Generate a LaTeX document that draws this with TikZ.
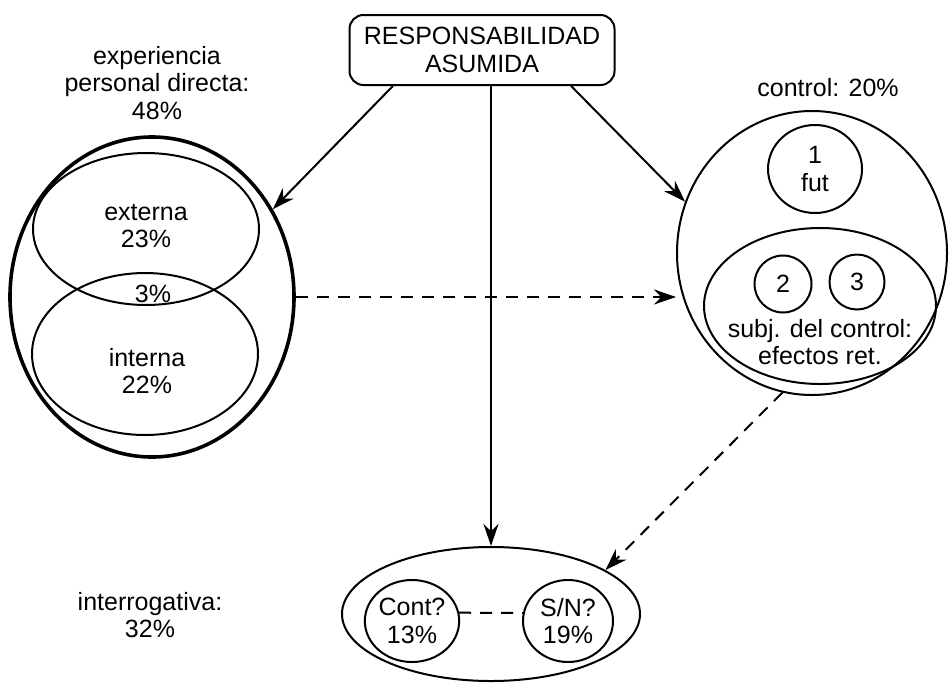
\documentclass[tikz,border=0pt]{standalone}
\usepackage{fontspec}
\setmainfont{Liberation Sans}
\usepackage{tikz}
\usetikzlibrary{arrows.meta, shapes.geometric}

\begin{document}
\begin{tikzpicture}[x=0.5pt, y=-0.5pt,
        txt/.style={align=center, inner sep=0pt, font=\fontsize{12.5}{13.8}\selectfont},
        ell/.style={ellipse, draw, line width=1pt, inner sep=0pt},
        arr/.style={-{Stealth[length=11pt,width=7.5pt]}, line width=1pt},
        darr/.style={arr, dash pattern=on 6pt off 4.5pt}]
    \useasboundingbox (0,0) rectangle (951,685);

    \node[draw, rounded corners=7pt, line width=1pt, minimum width=132.5pt, minimum height=35pt, txt] at (482,50) (resp) {RESPONSABILIDAD\\ASUMIDA};

    % experiencia personal directa
    \node[txt] at (157,83) (explab) {experiencia\\personal directa:\\48\%};
    \node[ell, line width=1.8pt, minimum width=142pt, minimum height=160pt] at (152,297) (exp) {};
    \node[ell, minimum width=113pt, minimum height=76pt] at (146,229) (ext) {};
    \node[ell, minimum width=113pt, minimum height=81pt] at (145,354) (int) {};
    \node[txt] at (146,226) (extlab) {externa\\23\%};
    \node[txt] at (153,294) (both) {3\%};
    \node[txt] at (147,371) (intlab) {interna\\22\%};

    % control
    \node[txt] at (828,88) (ctrllab) {control: 20\%};
    \node[ell, minimum width=135pt, minimum height=142pt] at (812,253) (ctrl) {};
    \node[ell, minimum width=47pt, minimum height=44pt, txt] at (815,169) (fut) {1\\fut};
    \node[ell, minimum width=116pt, minimum height=78pt] at (820,306) (subj) {};
    \node[ell, minimum width=28.5pt, minimum height=28.5pt, txt] at (783,284) (two) {2};
    \node[ell, minimum width=27.5pt, minimum height=27.5pt, txt] at (857,282) (three) {3};
    \node[txt] at (820,342) (subjlab) {subj. del control:\\efectos ret.};

    % interrogativa
    \node[txt] at (150,615) (interlab) {interrogativa:\\32\%};
    \node[ell, minimum width=149pt, minimum height=67pt] at (491,614) (interr) {};
    \node[ell, minimum width=45pt, minimum height=41pt, txt] at (412,621) (cont) {Cont?\\13\%};
    \node[ell, minimum width=45pt, minimum height=41pt, txt] at (568,621) (sn) {S/N?\\19\%};

    \draw [arr] (resp.202) -- (exp.36);
    \draw [arr] (resp.-22) -- (ctrl.158);
    \draw [arr] (resp.south -| interr.north) -- (interr.north);
    \draw [darr] (exp.east) -- (exp.east -| ctrl.west);
    \draw [darr] (ctrl.258) -- (interr.21);
    \draw [line width=1pt, dash pattern=on 6pt off 4.5pt] (cont.10) -- (sn.170);
\end{tikzpicture}
\end{document}
